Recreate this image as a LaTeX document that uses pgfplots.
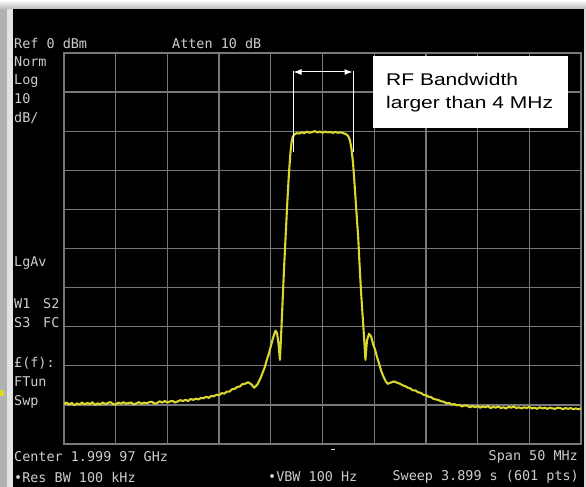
\documentclass[border=0pt]{standalone}
\usepackage{pgfplots}
\pgfplotsset{compat=1.18}
\usepackage{graphicx}
\usepackage{fontspec}
\usetikzlibrary{arrows.meta}
\newfontfamily\mono{DejaVu Sans Mono}
\newfontfamily\arial{Liberation Sans}
\definecolor{anatext}{RGB}{205,205,205}
\definecolor{gridc}{RGB}{120,120,120}
\definecolor{trace}{RGB}{215,215,45}
\begin{document}
\begin{tikzpicture}[x=1bp,y=-1bp]
% background
\fill[black] (0,0) rectangle (586,487);
\fill[gray!60] (0,0) rectangle (7,487);
\fill[gray!22] (7,0) rectangle (13,487);
\shade[top color=white, bottom color=gray!55] (0,0) rectangle (586,9);
\fill[gray!30] (584,9) rectangle (586,487);
\fill[trace] (0,390) rectangle (4,396);

\begin{axis}[
  at={(64bp,-53bp)}, anchor=north west,
  scale only axis, width=517bp, height=391bp,
  xmin=-25, xmax=25, ymin=-100, ymax=0,
  xtick={-20,-15,...,20}, ytick={-90,-80,...,-10},
  xticklabels={}, yticklabels={},
  major tick length=0pt,
  grid=major,
  grid style={gridc, line width=1.3bp},
  axis line style={gridc, line width=1.4bp},
  axis background/.style={fill=black},
]
\addplot[trace, line width=2.1bp, line join=round] table {
-25 -89.8
-24.75 -89.4
-24.5 -89.9
-24.25 -89.5
-24 -90.1
-23.75 -89.6
-23.5 -89.9
-23.25 -89.4
-23 -89.9
-22.75 -89.5
-22.5 -89.8
-22.25 -89.3
-22 -90.0
-21.75 -89.6
-21.5 -89.9
-21.25 -89.4
-21 -89.8
-20.75 -89.5
-20.5 -89.3
-20.25 -89.8
-20 -89.9
-19.75 -89.4
-19.5 -89.7
-19.25 -89.3
-19 -89.7
-18.75 -89.5
-18.5 -89.4
-18.25 -89.9
-18 -89.6
-17.75 -89.3
-17.5 -89.7
-17.25 -89.4
-17 -89.6
-16.75 -89.3
-16.5 -89.2
-16.25 -89.7
-16 -89.5
-15.75 -89.1
-15.5 -89.4
-15.25 -89.0
-15 -89.4
-14.75 -89.1
-14.5 -89.0
-14.25 -89.4
-14 -89.1
-13.75 -88.8
-13.5 -89.0
-13.25 -88.7
-13 -89.0
-12.75 -88.5
-12.5 -88.7
-12.25 -88.4
-12 -88.6
-11.75 -88.2
-11.5 -88.3
-11.25 -87.9
-11 -88.2
-10.75 -87.7
-10.5 -87.8
-10.25 -87.4
-10 -87.5
-9.75 -87.0
-9.5 -87.1
-9.25 -86.6
-9 -86.6
-8.75 -86.0
-8.5 -85.9
-8.25 -85.4
-8 -85.3
-7.75 -84.7
-7.5 -84.6
-7.2 -84.2
-6.9 -84.7
-6.6 -85.6
-6.3 -84.8
-6.0 -83.2
-5.8 -81.8
-5.6 -80.5
-5.4 -78.6
-5.2 -77.0
-5.0 -75.0
-4.8 -73.0
-4.55 -71.0
-4.4 -71.6
-4.25 -74.5
-4.12 -78.5
-4.0 -72.0
-3.85 -63.0
-3.7 -54.0
-3.55 -46.0
-3.4 -38.0
-3.25 -31.0
-3.1 -25.5
-3.0 -23.0
-2.9 -21.6
-2.75 -20.9
-2.5 -20.5
-2.25 -20.6
-2.0 -20.3
-1.75 -20.5
-1.5 -20.1
-1.25 -20.4
-1.0 -20.2
-0.75 -20.0
-0.5 -20.3
-0.25 -20.1
0 -20.4
0.25 -20.1
0.5 -20.3
0.75 -20.2
1.0 -20.4
1.25 -20.2
1.5 -20.4
1.75 -20.3
2.0 -20.5
2.3 -20.8
2.5 -21.3
2.65 -22.3
2.8 -24.5
2.95 -28.0
3.1 -33.5
3.25 -39.5
3.45 -47.0
3.6 -55.0
3.75 -62.0
3.9 -68.0
4.05 -74.0
4.15 -78.5
4.3 -73.5
4.5 -71.8
4.7 -72.5
4.9 -74.5
5.1 -76.0
5.3 -78.0
5.5 -79.7
5.7 -81.5
5.9 -82.8
6.1 -83.9
6.3 -84.6
6.6 -84.3
6.9 -84.0
7.2 -84.3
7.5 -84.6
7.75 -85.0
8.0 -85.2
8.25 -85.6
8.5 -85.8
8.75 -86.3
9.0 -86.3
9.25 -86.8
9.5 -86.9
9.75 -87.4
10 -87.5
10.25 -87.9
10.5 -88.0
10.75 -88.5
11 -88.6
11.25 -88.8
11.5 -89.1
11.75 -89.2
12 -89.6
12.25 -89.5
12.5 -89.9
12.75 -89.8
13 -90.1
13.25 -90.0
13.5 -90.4
13.75 -90.1
14 -90.2
14.25 -90.6
14.5 -90.3
14.75 -90.6
15 -90.3
15.25 -90.7
15.5 -90.4
15.75 -90.6
16 -90.3
16.25 -90.8
16.5 -90.5
16.75 -90.7
17 -90.4
17.25 -90.8
17.5 -90.6
17.75 -90.9
18 -90.5
18.25 -90.7
18.5 -90.4
18.75 -90.8
19 -90.6
19.25 -90.9
19.5 -90.6
19.75 -90.8
20 -90.5
20.25 -90.9
20.5 -90.7
20.75 -91.0
21 -90.6
21.25 -90.9
21.5 -90.7
21.75 -91.0
22 -90.7
22.25 -90.9
22.5 -91.0
22.75 -90.7
23 -90.8
23.25 -91.1
23.5 -90.8
23.75 -91.0
24 -90.8
24.25 -91.1
24.5 -90.9
24.75 -91.1
25 -90.9
};
\end{axis}

% annotation
\draw[white, line width=1bp] (293,71) -- (293,152);
\draw[white, line width=1bp] (353,71) -- (353,152);
\draw[white, line width=1bp, {Latex[length=8bp,width=6bp]}-{Latex[length=8bp,width=6bp]}] (293.5,72) -- (352.5,72);
\fill[white] (373,56) rectangle (568,128);
\node[anchor=west, inner sep=0, text=black] at (386,79) {\arial\fontsize{17}{20}\selectfont\scalebox{1.24}[1]{RF Bandwidth}};
\node[anchor=west, inner sep=0, text=black] at (386,104) {\arial\fontsize{17}{20}\selectfont\scalebox{1.24}[1]{larger than 4 MHz}};

% analyzer text
\tikzset{ana/.style={inner sep=0, text=anatext, font=\mono\fontsize{13.5}{16}\selectfont}}
\node[ana, anchor=west] at (14,43) {Ref 0 dBm};
\node[ana, anchor=west] at (172,43) {Atten 10 dB};
\node[ana, anchor=west] at (14,62) {Norm};
\node[ana, anchor=west] at (14,81) {Log};
\node[ana, anchor=west] at (14,99) {10};
\node[ana, anchor=west] at (14,118) {dB/};
\node[ana, anchor=west] at (14,263) {LgAv};
\node[ana, anchor=west] at (14,304) {W1};
\node[ana, anchor=west] at (43,304) {S2};
\node[ana, anchor=west] at (14,323) {S3};
\node[ana, anchor=west] at (43,323) {FC};
\node[ana, anchor=west] at (14,363) {£(f):};
\node[ana, anchor=west] at (14,382) {FTun};
\node[ana, anchor=west] at (14,402) {Swp};
\node[ana, anchor=west] at (14,457) {Center 1.999 97 GHz};
\node[ana, anchor=east] at (578,457) {Span 50 MHz};
\node[ana, anchor=west] at (14,477) {•Res BW 100 kHz};
\node[ana, anchor=west] at (268,477) {•VBW 100 Hz};
\node[ana, anchor=east] at (579,477) {Sweep 3.899 s (601 pts)};
\draw[anatext, line width=1bp] (331,449) -- (335,449);
\end{tikzpicture}
\end{document}
